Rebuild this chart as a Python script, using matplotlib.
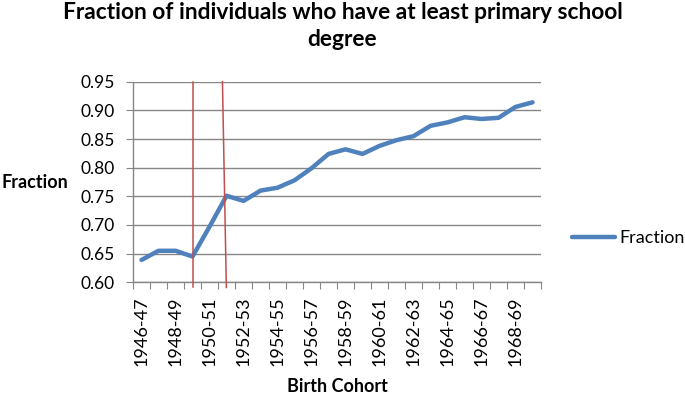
import matplotlib.pyplot as plt
import numpy as np

plt.rcParams["font.family"] = ["Lato", "DejaVu Sans"]

cohorts = ["%d-%02d" % (y, (y + 1) % 100) for y in range(1946, 1970)]
fraction = [0.639, 0.655, 0.655, 0.645, 0.697, 0.751, 0.742, 0.760,
            0.765, 0.778, 0.799, 0.824, 0.832, 0.824, 0.838, 0.848,
            0.855, 0.873, 0.879, 0.888, 0.885, 0.887, 0.906, 0.914]

# hand drawn red markers (category position, top, bottom)
red_lines = [((3.0, 0.95), (3.0, 0.591)),
             ((4.76, 0.95), (4.99, 0.591))]

fig = plt.figure(figsize=(6.85, 3.96), dpi=100)
ax = fig.add_axes([0.1942, 0.2871, 0.5956, 0.5066])

x = np.arange(len(cohorts))
ax.plot(x, fraction, color="#4F81BD", lw=3.2, solid_capstyle="round",
        solid_joinstyle="round", label="Fraction", zorder=3)

for (x0, y0), (x1, y1) in red_lines:
    ax.plot([x0, x1], [y0, y1], color="#C0504D", lw=1.1, zorder=4,
            clip_on=False)

ax.set_xlim(-0.5, len(cohorts) - 0.5)
ax.set_ylim(0.60, 0.95)
ax.set_yticks(np.arange(0.60, 0.951, 0.05))
ax.set_yticklabels(["%.2f" % v for v in np.arange(0.60, 0.951, 0.05)],
                   fontsize=12.5)
ax.yaxis.grid(True, color="#868686", lw=1)
ax.set_axisbelow(True)

ax.set_xticks(np.arange(-0.5, len(cohorts)), minor=False)
ax.set_xticklabels([])
ax.set_xticks(x[::2], minor=True)
ax.set_xticklabels(cohorts[::2], minor=True, rotation=90, fontsize=13)
ax.tick_params(axis="x", which="major", length=5, color="#868686",
               direction="out")
ax.tick_params(axis="x", which="minor", length=0, pad=10)
ax.tick_params(axis="y", length=5, color="#868686", pad=8)

for s in ["top", "right"]:
    ax.spines[s].set_visible(False)
for s in ["left", "bottom"]:
    ax.spines[s].set_color("#868686")
    ax.spines[s].set_linewidth(1)

ax.set_xlabel("Birth Cohort", fontsize=13, fontweight="bold", labelpad=9)
ax.set_ylabel("Fraction", fontsize=13, fontweight="bold", rotation=0,
              ha="left", va="center")
ax.yaxis.set_label_coords(-0.322, 0.5)

fig.suptitle("Fraction of individuals who have at least primary school\ndegree",
             fontsize=16.4, fontweight="bold", y=0.995, linespacing=1.35)

ax.legend(loc="center left", bbox_to_anchor=(1.035, 0.22), frameon=False,
          fontsize=13, handlelength=2.4, handletextpad=0.25)

fig.savefig("out.png", dpi=100)
